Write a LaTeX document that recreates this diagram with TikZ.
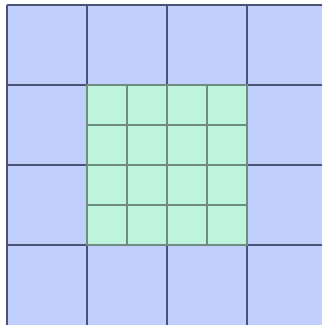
\documentclass[tikz,border=0pt]{standalone}
\begin{document}
\begin{tikzpicture}[x=1pt,y=-1pt,
  bluecell/.style={fill={rgb,255:red,192;green,207;blue,252}},
  greencell/.style={fill={rgb,255:red,190;green,243;blue,220}},
  coarse/.style={draw={rgb,255:red,74;green,82;blue,118},line width=1.8pt},
  fine/.style={draw={rgb,255:red,110;green,140;blue,128},line width=1.4pt}]
\useasboundingbox (0,0) rectangle (322,325);
\fill[white] (0,0) rectangle (322,325);
\clip (0,0) rectangle (322,325);
\path[bluecell] (7,5) rectangle (327,330);
\path[greencell] (87,85) rectangle (247,245);
\foreach \i in {0,...,3} {
  \draw[coarse] (7+80*\i,5) -- (7+80*\i,330);
  \draw[coarse] (7,5+80*\i) -- (330,5+80*\i);
}
\foreach \i in {1,3} {
  \draw[fine] (87+40*\i,85) -- (87+40*\i,245);
  \draw[fine] (87,85+40*\i) -- (247,85+40*\i);
}
\draw[fine] (167,85) -- (167,245);
\draw[fine] (87,165) -- (247,165);
\draw[fine] (87,85) rectangle (247,245);
\end{tikzpicture}
\end{document}
